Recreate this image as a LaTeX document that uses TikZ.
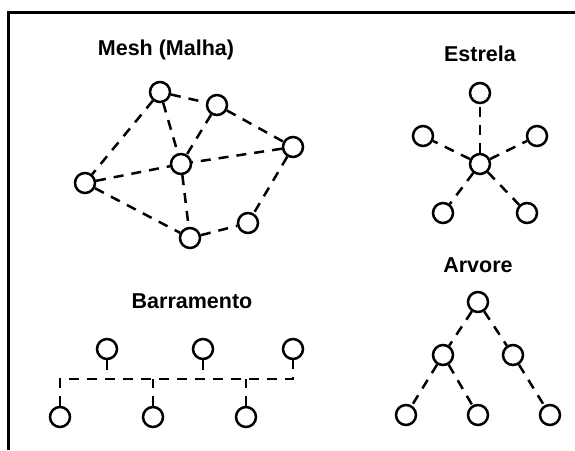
\documentclass[tikz,border=0pt]{standalone}
\usepackage{fontspec}
\setmainfont{Liberation Sans}
\usetikzlibrary{positioning}

\tikzset{
  pc/.style={draw, circle, line width=2.5pt, minimum size=20pt, inner sep=0pt},
  link/.style={line width=2.5pt, dash pattern=on 10pt off 8pt},
  title/.style={font=\fontsize{21.5}{25}\selectfont\bfseries}
}

\begin{document}
\begin{tikzpicture}[x=1pt,y=-1pt]
    \useasboundingbox (0,0) rectangle (575,450);
    \draw[line width=2.2pt] (8.5,450)--(8.5,12.5)--(575,12.5);
    % mesh
    \node[title] (tmesh) at (166,50) {Mesh (Malha)};
    \node[pc] (m1) at (160,92) {};
    \node[pc] (m2) at (217,105) {};
    \node[pc] (m3) at (293,147) {};
    \node[pc] (m4) at (181,164) {};
    \node[pc] (m5) at (85,183) {};
    \node[pc] (m6) at (190,238) {};
    \node[pc] (m7) at (248,223) {};
    \draw[link] (m1)--(m2);
    \draw[link] (m1)--(m5);
    \draw[link] (m1)--(m4);
    \draw[link] (m2)--(m4);
    \draw[link] (m2)--(m3);
    \draw[link] (m3)--(m4);
    \draw[link] (m3)--(m7);
    \draw[link] (m5)--(m4);
    \draw[link] (m5)--(m6);
    \draw[link] (m4)--(m6);
    \draw[link] (m6)--(m7);
    % estrela
    \node[title] (tstar) at (480,54) {Estrela};
    \node[pc] (s0) at (480,164) {};
    \node[pc] (s1) at (480,93) {};
    \node[pc] (s2) at (423,136) {};
    \node[pc] (s3) at (537,136) {};
    \node[pc] (s4) at (443,213) {};
    \node[pc] (s5) at (527,213) {};
    \foreach \s in {s1,s2,s3,s4,s5}
      \draw[link] (s0)--(\s);
    % arvore
    \node[title] (ttree) at (478,265) {Arvore};
    \node[pc] (t1) at (478,302) {};
    \node[pc] (t2) at (443,355) {};
    \node[pc] (t3) at (513,355) {};
    \node[pc] (t4) at (406,415) {};
    \node[pc] (t5) at (478,415) {};
    \node[pc] (t6) at (550,415) {};
    \draw[link] (t1)--(t2);
    \draw[link] (t1)--(t3);
    \draw[link] (t2)--(t4);
    \draw[link] (t2)--(t5);
    \draw[link] (t3)--(t6);
    % barramento
    \node[title] (tbus) at (192,301) {Barramento};
    \node[pc] (b1) at (107,349) {};
    \node[pc] (b2) at (203,349) {};
    \node[pc] (b3) at (293,349) {};
    \node[pc] (b4) at (60,417) {};
    \node[pc] (b5) at (153,417) {};
    \node[pc] (b6) at (246,417) {};
    \coordinate (busl) at (60,379);
    \coordinate (busr) at (293,379);
    \draw[link] (b4)--(busl)--(busr)--(b3);
    \draw[link] (b1)--(b1|-busl);
    \draw[link] (b2)--(b2|-busl);
    \draw[link] (b5)--(b5|-busl);
    \draw[link] (b6)--(b6|-busl);
\end{tikzpicture}
\end{document}
